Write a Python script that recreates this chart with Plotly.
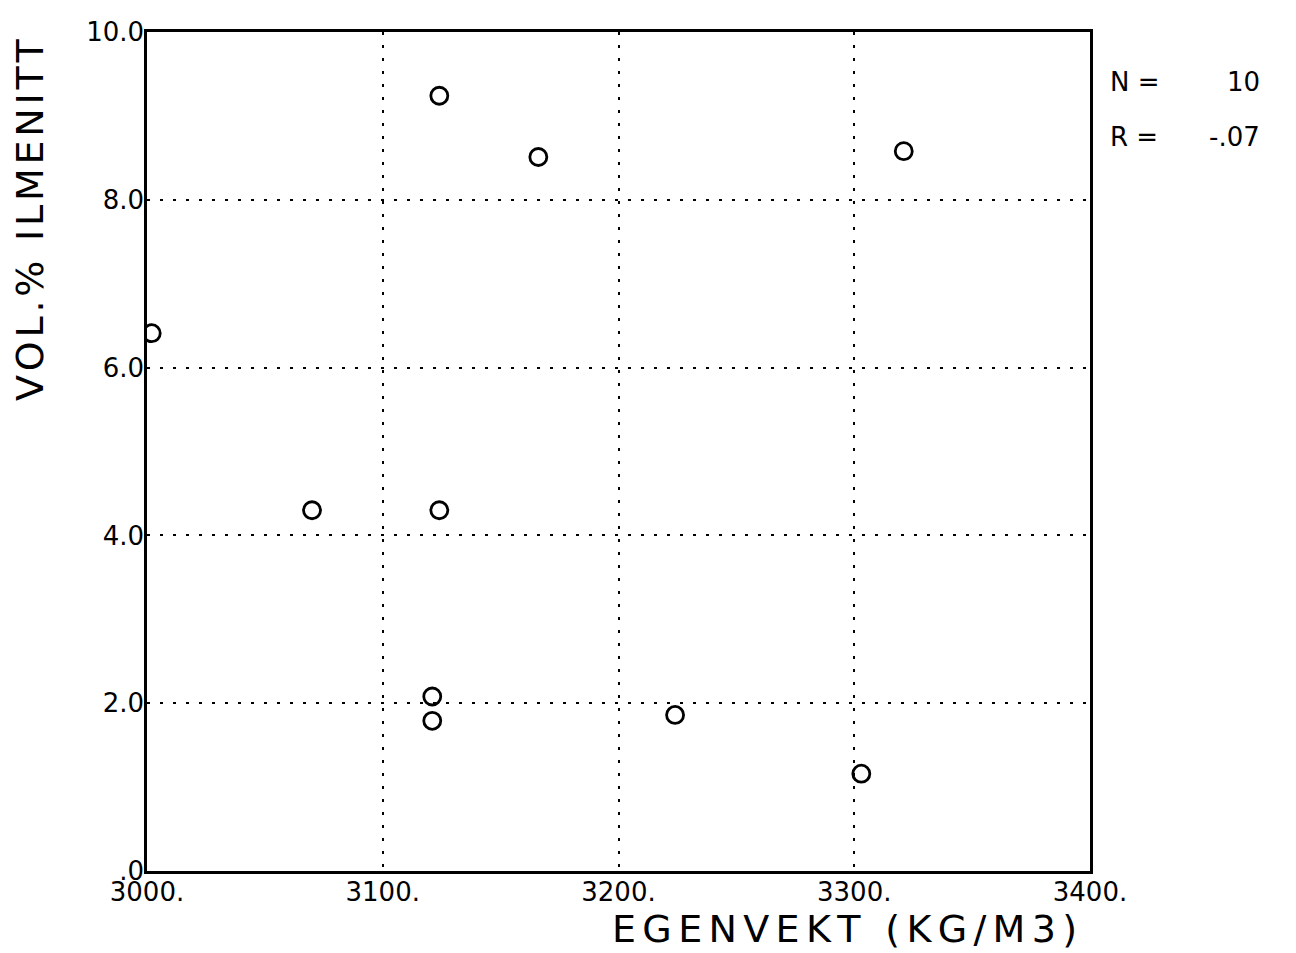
import plotly.graph_objects as go

# Density (kg/m3) vs. ilmenite volume percent
egenvekt = [3002, 3124, 3166, 3321, 3070, 3124, 3121, 3121, 3224, 3303]
ilmenitt = [6.41, 9.24, 8.51, 8.58, 4.30, 4.30, 2.08, 1.79, 1.86, 1.16]

x_ticks = [3000, 3100, 3200, 3300, 3400]
x_ticktext = ["3000.", "3100.", "3200.", "3300.", "3400."]
y_ticks = [0, 2, 4, 6, 8, 10]
y_ticktext = [".0", "2.0", "4.0", "6.0", "8.0", "10.0"]

n_text = "10"
r_text = "-.07"

FONT = "DejaVu Sans"


def spaced(s, gap):
    """Open up the letter spacing with a narrow space between letters."""
    return gap.join(s)


fig = go.Figure()
fig.add_trace(go.Scatter(
    x=egenvekt, y=ilmenitt, mode="markers",
    marker=dict(symbol="circle-open", size=17, color="black",
                line=dict(width=2.8, color="black")),
    showlegend=False, hoverinfo="skip",
))

axis_common = dict(
    showline=True, linecolor="black", linewidth=2.5, mirror=True,
    ticks="", showgrid=True, gridcolor="black", gridwidth=2.2,
    griddash="2.5px,10.5px", zeroline=False,
    tickfont=dict(family=FONT, size=26, color="black"),
)

fig.update_xaxes(range=[3000, 3400], tickvals=x_ticks, ticktext=x_ticktext,
                 ticklabelstandoff=-4, **axis_common)
fig.update_yaxes(range=[0, 10], tickvals=y_ticks, ticktext=y_ticktext,
                 ticklabelstandoff=-5, **axis_common)

annotations = [
    dict(text=spaced("EGENVEKT (KG/M3)", "\u2006"), x=0.740, y=-0.069,
         xref="paper", yref="paper",
         showarrow=False, xanchor="center", yanchor="middle",
         font=dict(family=FONT, size=38, color="black")),
    dict(text=spaced("VOL.% ILMENITT", "\u200a"), x=-0.124, y=0.776,
         xref="paper", yref="paper",
         showarrow=False, xanchor="center", yanchor="middle", textangle=-90,
         font=dict(family=FONT, size=38, color="black")),
    dict(text="N =", x=1.019, y=0.940, xref="paper", yref="paper",
         showarrow=False, xanchor="left", yanchor="middle",
         font=dict(family=FONT, size=26, color="black")),
    dict(text=n_text, x=1.182, y=0.940, xref="paper", yref="paper",
         showarrow=False, xanchor="right", yanchor="middle",
         font=dict(family=FONT, size=26, color="black")),
    dict(text="R =", x=1.019, y=0.875, xref="paper", yref="paper",
         showarrow=False, xanchor="left", yanchor="middle",
         font=dict(family=FONT, size=26, color="black")),
    dict(text=r_text, x=1.182, y=0.875, xref="paper", yref="paper",
         showarrow=False, xanchor="right", yanchor="middle",
         font=dict(family=FONT, size=26, color="black")),
]

fig.update_layout(
    width=1296, height=953,
    margin=dict(l=147, r=206, t=32, b=82, pad=0),
    paper_bgcolor="white", plot_bgcolor="white",
    annotations=annotations,
)

fig.write_html("out.html")
